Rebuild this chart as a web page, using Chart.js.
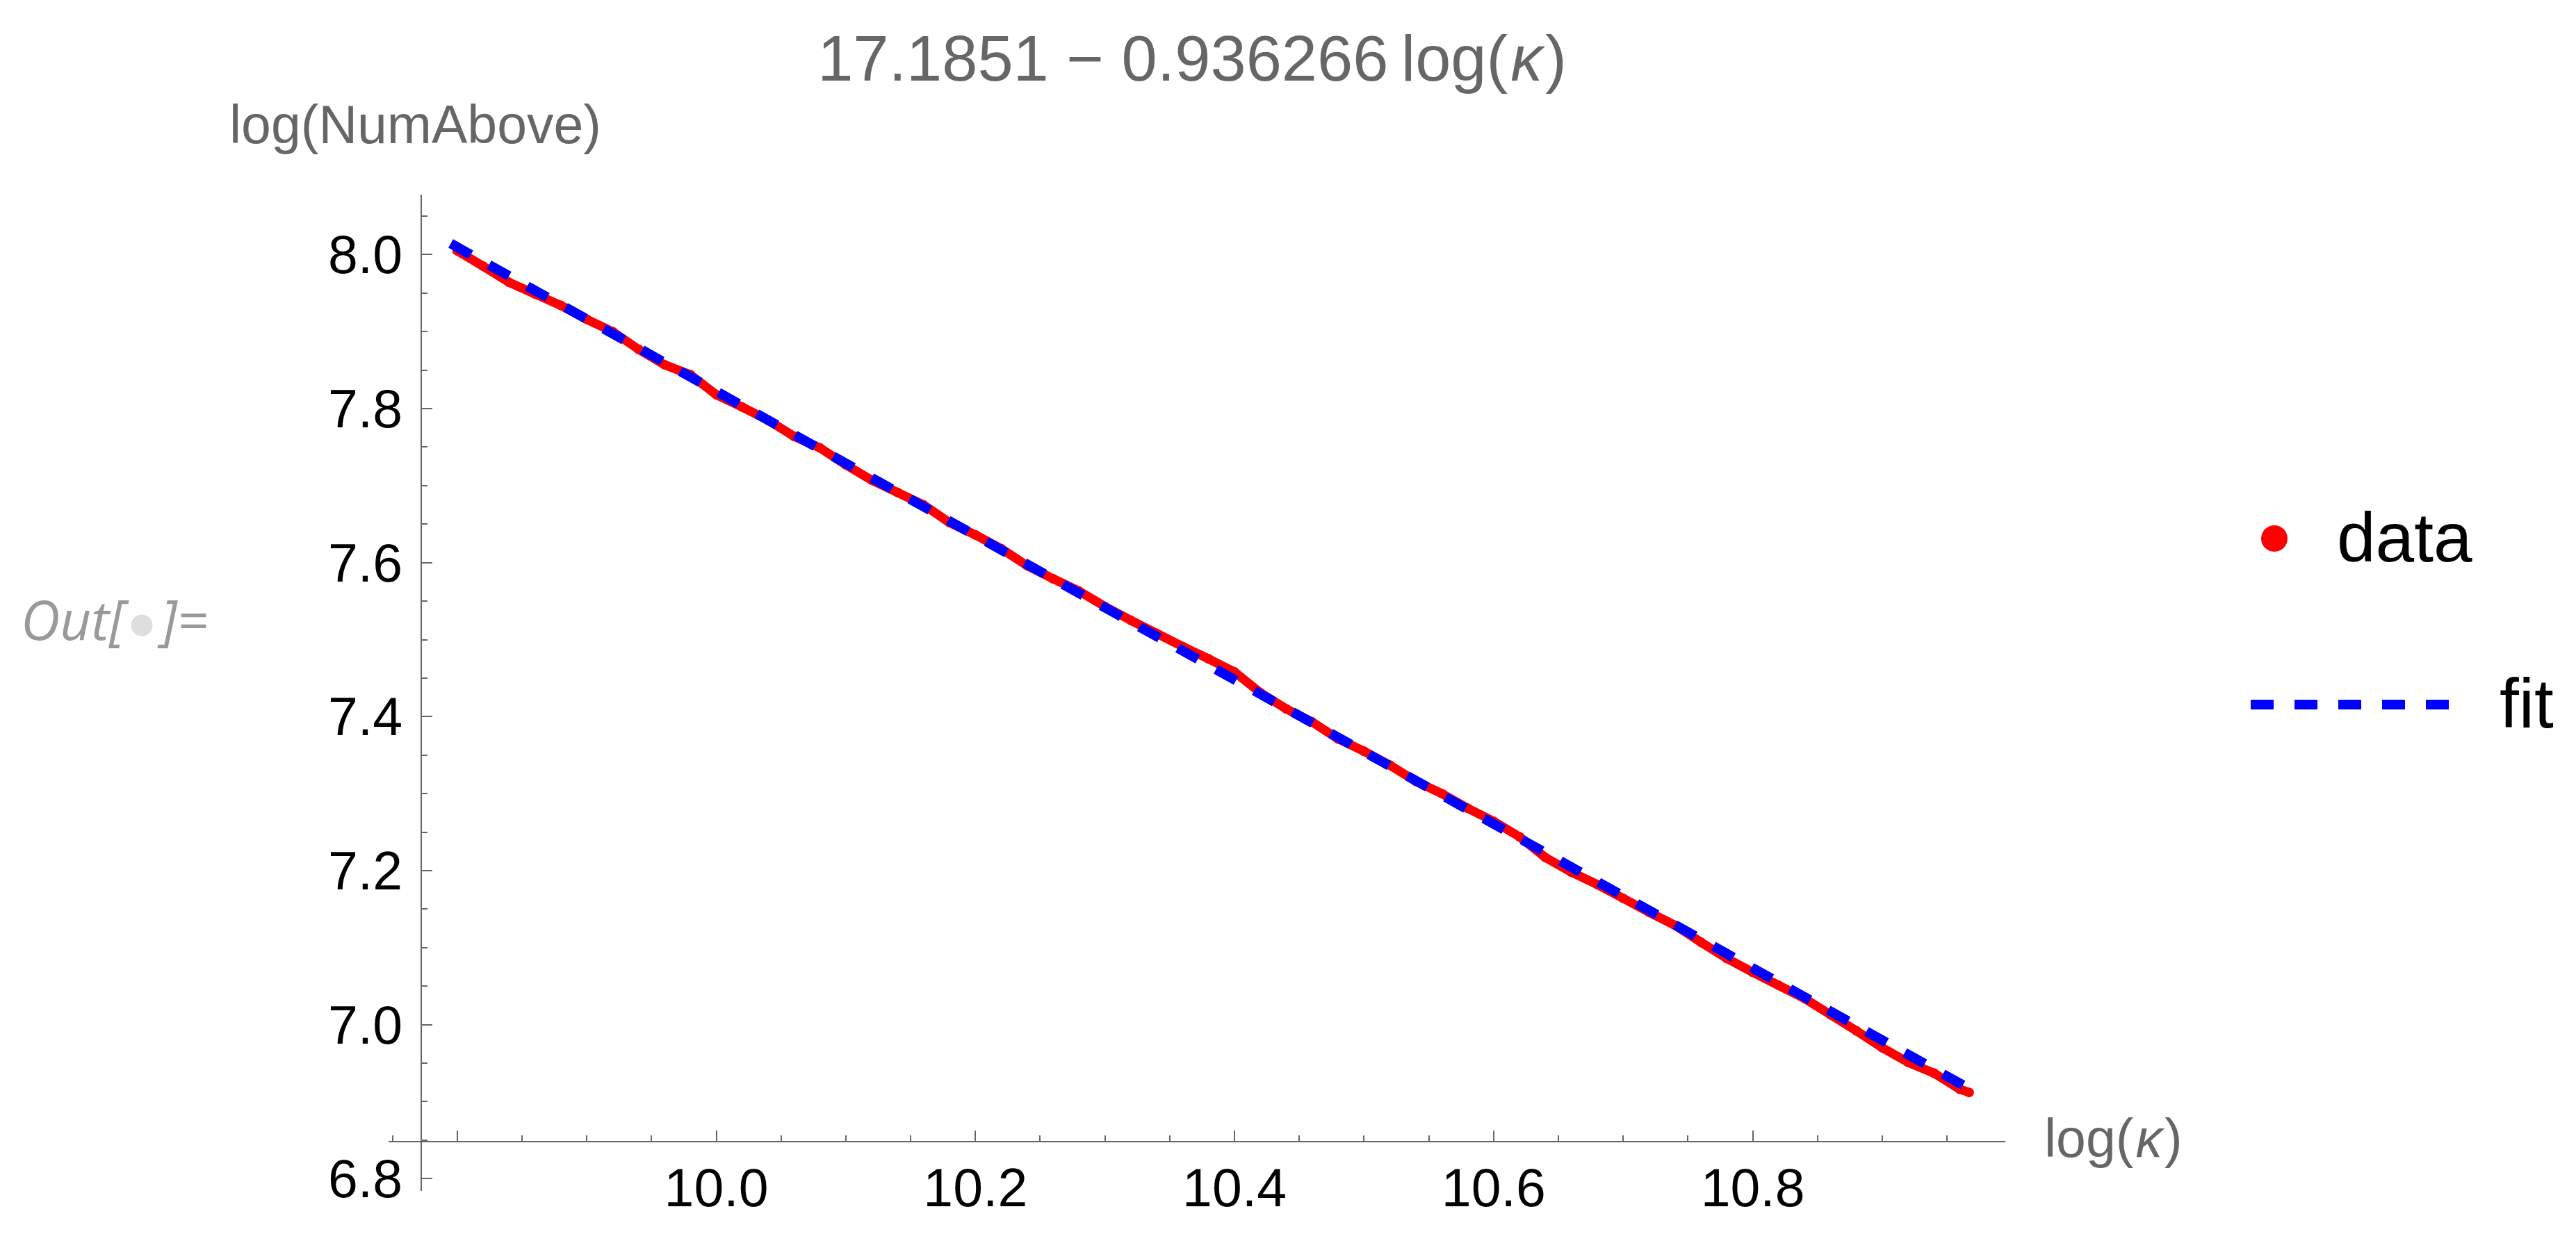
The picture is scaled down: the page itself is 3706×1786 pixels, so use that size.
<!DOCTYPE html>
<html><head><meta charset="utf-8">
<script src="https://cdn.jsdelivr.net/npm/chart.js@4.4.0/dist/chart.umd.min.js"></script>
<style>html,body{margin:0;padding:0;background:#fff;overflow:hidden}canvas{display:block}</style>
</head><body>
<canvas id="c" width="3706" height="1786"></canvas>
<script>
// ---- data ----
const dataX = [9.80,9.82,9.84,9.86,9.88,9.90,9.92,9.94,9.96,9.98,10.00,10.02,10.04,10.06,10.08,10.10,10.12,10.14,10.16,10.18,10.20,10.22,10.24,10.26,10.28,10.30,10.32,10.34,10.36,10.38,10.40,10.42,10.44,10.46,10.48,10.50,10.52,10.54,10.56,10.58,10.60,10.62,10.64,10.66,10.68,10.70,10.72,10.74,10.76,10.78,10.80,10.82,10.84,10.86,10.88,10.90,10.92,10.94,10.96,10.967];
const dataY = [8.005,7.985,7.964,7.949,7.934,7.916,7.900,7.877,7.857,7.844,7.818,7.802,7.785,7.764,7.749,7.727,7.707,7.691,7.675,7.652,7.636,7.618,7.596,7.579,7.563,7.543,7.525,7.508,7.491,7.475,7.458,7.431,7.410,7.393,7.371,7.355,7.337,7.316,7.300,7.281,7.264,7.244,7.217,7.198,7.182,7.164,7.146,7.129,7.107,7.086,7.068,7.051,7.034,7.013,6.992,6.970,6.951,6.937,6.916,6.912];
const fitX = [9.795, 10.967];
const fitY = [8.0144, 6.9171];

const xMajorTicks = [9.8, 10.0, 10.2, 10.4, 10.6, 10.8];
const xTickLabels = ['', '10.0', '10.2', '10.4', '10.6', '10.8'];
const yMajorTicks = [6.8, 7.0, 7.2, 7.4, 7.6, 7.8, 8.0];
const yTickLabels = ['6.8', '7.0', '7.2', '7.4', '7.6', '7.8', '8.0'];
const xMinorTicks = [9.75,9.85,9.9,9.95,10.05,10.1,10.15,10.25,10.3,10.35,10.45,10.5,10.55,10.65,10.7,10.75,10.85,10.9,10.95];
const yMinorTicks = [6.85,6.9,6.95,7.05,7.1,7.15,7.25,7.3,7.35,7.45,7.5,7.55,7.65,7.7,7.75,7.85,7.9,7.95,8.05];

const titleParts = [['17.1851 \u2212 0.936266\u2009log(', false], ['\u03BA', true], [')', false]];
const yAxisTitle = 'log(NumAbove)';
const xAxisTitleParts = [['log(', false], ['\u03BA', true], [')', false]];
const legendLabels = ['data', 'fit'];

const FONT = '"Liberation Sans", Arial, sans-serif';
const AXIS = '#666666';

function drawParts(ctx, parts, x, y, size, color, gap) {
  ctx.fillStyle = color;
  ctx.textAlign = 'left';
  ctx.textBaseline = 'alphabetic';
  let cx = x;
  parts.forEach(([t, it], i) => {
    ctx.font = (it ? 'italic ' : '') + size + 'px ' + FONT;
    if (it) cx += gap;
    ctx.fillText(t, cx, y);
    cx += ctx.measureText(t).width;
    if (it) cx += gap;
  });
  return cx - x;
}
function partsWidth(ctx, parts, size, gap) {
  let w = 0;
  parts.forEach(([t, it]) => {
    ctx.font = (it ? 'italic ' : '') + size + 'px ' + FONT;
    w += ctx.measureText(t).width + (it ? 2 * gap : 0);
  });
  return w;
}

const decor = {
  id: 'decor',
  beforeDatasetsDraw(chart) {
    const ctx = chart.ctx, xs = chart.scales.x, ys = chart.scales.y;
    const ax = Math.round(xs.getPixelForValue(9.772));
    const ay = Math.round(ys.getPixelForValue(6.848));
    ctx.save();
    ctx.strokeStyle = AXIS;
    ctx.lineWidth = 2;
    ctx.beginPath();
    ctx.moveTo(xs.left, ay); ctx.lineTo(xs.right, ay);
    ctx.moveTo(ax, ys.top); ctx.lineTo(ax, ys.bottom);
    ctx.stroke();
    ctx.beginPath();
    xMajorTicks.forEach(v => { const p = Math.round(xs.getPixelForValue(v)); ctx.moveTo(p, ay); ctx.lineTo(p, ay - 16); });
    xMinorTicks.forEach(v => { const p = Math.round(xs.getPixelForValue(v)); ctx.moveTo(p, ay); ctx.lineTo(p, ay - 9); });
    yMajorTicks.forEach(v => { const p = Math.round(ys.getPixelForValue(v)); ctx.moveTo(ax, p); ctx.lineTo(ax + 16, p); });
    yMinorTicks.forEach(v => { const p = Math.round(ys.getPixelForValue(v)); ctx.moveTo(ax, p); ctx.lineTo(ax + 9, p); });
    ctx.stroke();
    // tick labels
    ctx.fillStyle = '#000';
    ctx.font = '77px ' + FONT;
    ctx.textBaseline = 'alphabetic';
    ctx.textAlign = 'center';
    xMajorTicks.forEach((v, i) => { if (xTickLabels[i]) ctx.fillText(xTickLabels[i], xs.getPixelForValue(v), ay + 93); });
    ctx.textAlign = 'right';
    yMajorTicks.forEach((v, i) => ctx.fillText(yTickLabels[i], ax - 27, ys.getPixelForValue(v) + 27));
    ctx.restore();
  },
  afterDraw(chart) {
    const ctx = chart.ctx, xs = chart.scales.x, ys = chart.scales.y;
    ctx.save();
    // title
    const tw = partsWidth(ctx, titleParts, 92, 4);
    drawParts(ctx, titleParts, 1715 - tw / 2, 116, 92, AXIS, 4);
    // axis titles
    ctx.font = '77px ' + FONT; ctx.fillStyle = AXIS; ctx.textAlign = 'left';
    ctx.fillText(yAxisTitle, 330, 206);
    drawParts(ctx, xAxisTitleParts, 2941, 1665, 77, AXIS, 3);
    // legend
    const dsData = chart.data.datasets[1], dsFit = chart.data.datasets[0];
    ctx.fillStyle = dsData.pointBackgroundColor;
    ctx.beginPath(); ctx.arc(3272, 775, 19, 0, Math.PI * 2); ctx.fill();
    ctx.strokeStyle = dsFit.borderColor; ctx.lineWidth = 14; ctx.lineCap = 'butt';
    ctx.setLineDash(dsFit.borderDash);
    ctx.beginPath(); ctx.moveTo(3238, 1014); ctx.lineTo(3523, 1014); ctx.stroke();
    ctx.setLineDash([]);
    ctx.fillStyle = '#000'; ctx.font = '100px ' + FONT; ctx.textAlign = 'left';
    ctx.fillText(legendLabels[0], 3362, 808);
    ctx.fillText(legendLabels[1], 3596, 1047);
    // Out[ ]= label
    ctx.fillStyle = '#999999';
    ctx.font = 'italic 78px "Open Sans", "Noto Sans", sans-serif';
    ctx.fillText('Out[', 30, 921);
    ctx.fillText(']=', 232, 921);
    ctx.fillStyle = '#dedede';
    ctx.beginPath(); ctx.arc(204, 900, 15.5, 0, Math.PI * 2); ctx.fill();
    ctx.restore();
  }
};

new Chart(document.getElementById('c'), {
  type: 'scatter',
  data: {
    datasets: [
      { label: legendLabels[1], data: fitX.map((x, i) => ({ x, y: fitY[i] })), showLine: true,
        borderColor: '#0000ff', borderWidth: 14, borderDash: [33, 30], borderCapStyle: 'butt',
        pointRadius: 0, order: 0 },
      { label: legendLabels[0], data: dataX.map((x, i) => ({ x, y: dataY[i] })), showLine: true,
        borderColor: '#ff0000', borderWidth: 13, borderJoinStyle: 'round', borderCapStyle: 'round',
        pointRadius: 7, pointBackgroundColor: '#ff0000', pointBorderWidth: 0, order: 1 }
    ]
  },
  options: {
    responsive: false, animation: false, devicePixelRatio: 1,
    layout: { padding: { left: 559, right: 821, top: 280, bottom: 72 } },
    scales: {
      x: { type: 'linear', min: 9.747, max: 10.995, display: false },
      y: { type: 'linear', min: 6.784, max: 8.078, display: false }
    },
    elements: { line: { tension: 0 } },
    plugins: { legend: { display: false }, tooltip: { enabled: false }, title: { display: false } }
  },
  plugins: [decor]
});
</script>
</body></html>
